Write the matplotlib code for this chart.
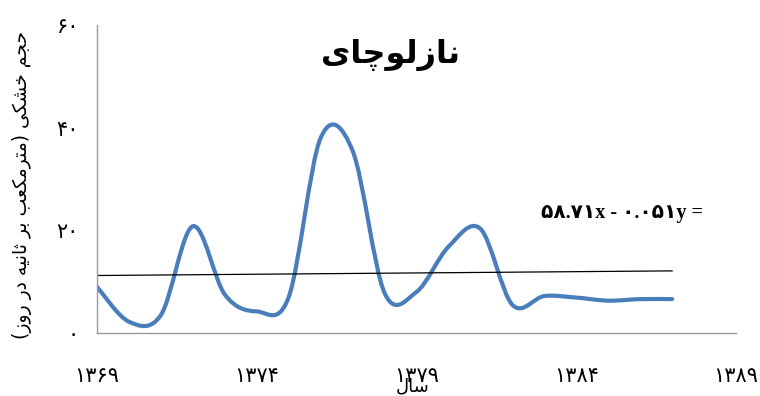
import numpy as np
import matplotlib
matplotlib.use('Agg')
import matplotlib.pyplot as plt
from matplotlib.path import Path
from matplotlib.patches import PathPatch

# data (one value per year)
years = list(range(1369, 1388))
values = [9.0, 2.2, 3.5, 20.8, 7.5, 4.2, 7.0, 38.0, 35.5, 7.8,
          8.0, 16.8, 20.3, 5.5, 7.2, 6.9, 6.3, 6.6, 6.6]
# linear trend line as drawn on the chart (start / end value)
trend_years = [1369, 1387]
trend_values = [11.2, 12.1]
xticks = [1369, 1374, 1379, 1384, 1389]
yticks = [0, 20, 40, 60]

title_txt = 'نازلوچای'
ylabel_txt = 'حجم خشکی (مترمکعب بر ثانیه در روز)'
xlabel_txt = 'سال'
eq_txt = '۵۸.۷۱x - ۰.۰۵۱y ='

# simple arabic shaping (matplotlib does no shaping / bidi by itself)
FORMS = {
    'ا': ('\uFE8D', '\uFE8E', None, None),
    'ب': ('\uFE8F', '\uFE90', '\uFE91', '\uFE92'),
    'ت': ('\uFE95', '\uFE96', '\uFE97', '\uFE98'),
    'ث': ('\uFE99', '\uFE9A', '\uFE9B', '\uFE9C'),
    'ج': ('\uFE9D', '\uFE9E', '\uFE9F', '\uFEA0'),
    'ح': ('\uFEA1', '\uFEA2', '\uFEA3', '\uFEA4'),
    'خ': ('\uFEA5', '\uFEA6', '\uFEA7', '\uFEA8'),
    'د': ('\uFEA9', '\uFEAA', None, None),
    'ر': ('\uFEAD', '\uFEAE', None, None),
    'ز': ('\uFEAF', '\uFEB0', None, None),
    'س': ('\uFEB1', '\uFEB2', '\uFEB3', '\uFEB4'),
    'ش': ('\uFEB5', '\uFEB6', '\uFEB7', '\uFEB8'),
    'ع': ('\uFEC9', '\uFECA', '\uFECB', '\uFECC'),
    'ل': ('\uFEDD', '\uFEDE', '\uFEDF', '\uFEE0'),
    'م': ('\uFEE1', '\uFEE2', '\uFEE3', '\uFEE4'),
    'ن': ('\uFEE5', '\uFEE6', '\uFEE7', '\uFEE8'),
    'ه': ('\uFEE9', '\uFEEA', '\uFEEB', '\uFEEC'),
    'و': ('\uFEED', '\uFEEE', None, None),
    'ی': ('\uFBFC', '\uFBFD', '\uFBFE', '\uFBFF'),
    'ک': ('\uFB8E', '\uFB8F', '\uFB90', '\uFB91'),
    'چ': ('\uFB7A', '\uFB7B', '\uFB7C', '\uFB7D'),
}


def rtl(text):
    out = []
    n = len(text)
    for i, c in enumerate(text):
        if c not in FORMS:
            out.append(c)
            continue
        prev = text[i - 1] if i > 0 else None
        nxt = text[i + 1] if i + 1 < n else None
        jp = prev in FORMS and FORMS[prev][2] is not None
        jn = nxt in FORMS and FORMS[c][2] is not None
        iso, fin, ini, med = FORMS[c]
        if jp and jn:
            out.append(med)
        elif jp:
            out.append(fin)
        elif jn:
            out.append(ini)
        else:
            out.append(iso)
    swap = {'(': ')', ')': '('}
    return ''.join(swap.get(c, c) for c in reversed(out))


def fa(n):
    return str(n).translate(str.maketrans('0123456789', '۰۱۲۳۴۵۶۷۸۹'))


fonts = ['DejaVu Sans']

fig = plt.figure(figsize=(7.6, 3.96), dpi=100)
ax = fig.add_axes([97 / 760, 1 - 333 / 396, 639 / 760, 308 / 396])
ax.set_xlim(1369, 1389)
ax.set_ylim(0, 60)

# smoothed line (bezier segments through the data, like excel "smoothed line")
pts = np.column_stack([years, values]).astype(float)
verts = [pts[0]]
codes = [Path.MOVETO]
for i in range(len(pts) - 1):
    p0 = pts[i - 1] if i > 0 else pts[i]
    p1 = pts[i]
    p2 = pts[i + 1]
    p3 = pts[i + 2] if i + 2 < len(pts) else pts[i + 1]
    verts += [p1 + (p2 - p0) / 6, p2 - (p3 - p1) / 6, p2]
    codes += [Path.CURVE4] * 3
ax.add_patch(PathPatch(Path(verts, codes), facecolor='none',
                       edgecolor='#4A7EBB', lw=3.0, capstyle='round',
                       joinstyle='round'))

ax.plot(trend_years, trend_values, color='black', lw=0.9)

ax.set_xticks(xticks)
ax.set_xticklabels([fa(t) for t in xticks], fontsize=15, family=fonts)
ax.set_yticks(yticks)
ax.set_yticklabels([fa(t) for t in yticks], fontsize=15, family=fonts)
ax.tick_params(axis='both', length=0)
ax.tick_params(axis='y', pad=13)
ax.tick_params(axis='x', pad=24)
for s in ['top', 'right']:
    ax.spines[s].set_visible(False)
for s in ['left', 'bottom']:
    ax.spines[s].set_color('#9a9a9a')
    ax.spines[s].set_linewidth(1.0)

fig.text(390 / 760, 1 - 55 / 396, rtl(title_txt), fontsize=23,
         fontweight='bold', ha='center', va='center', family=fonts)
fig.text(22 / 760, 1 - 185 / 396, rtl(ylabel_txt), fontsize=13.5,
         rotation=90, ha='center', va='center', family=fonts)
fig.text(413 / 760, 1 - 386 / 396, rtl(xlabel_txt), fontsize=13,
         ha='center', va='center', family=fonts)
fig.text(622 / 760, 1 - 213 / 396, eq_txt, fontsize=14.5, fontweight='bold',
         ha='center', va='center', family=['Liberation Serif', 'DejaVu Sans'])

fig.savefig('out.png', dpi=100)
